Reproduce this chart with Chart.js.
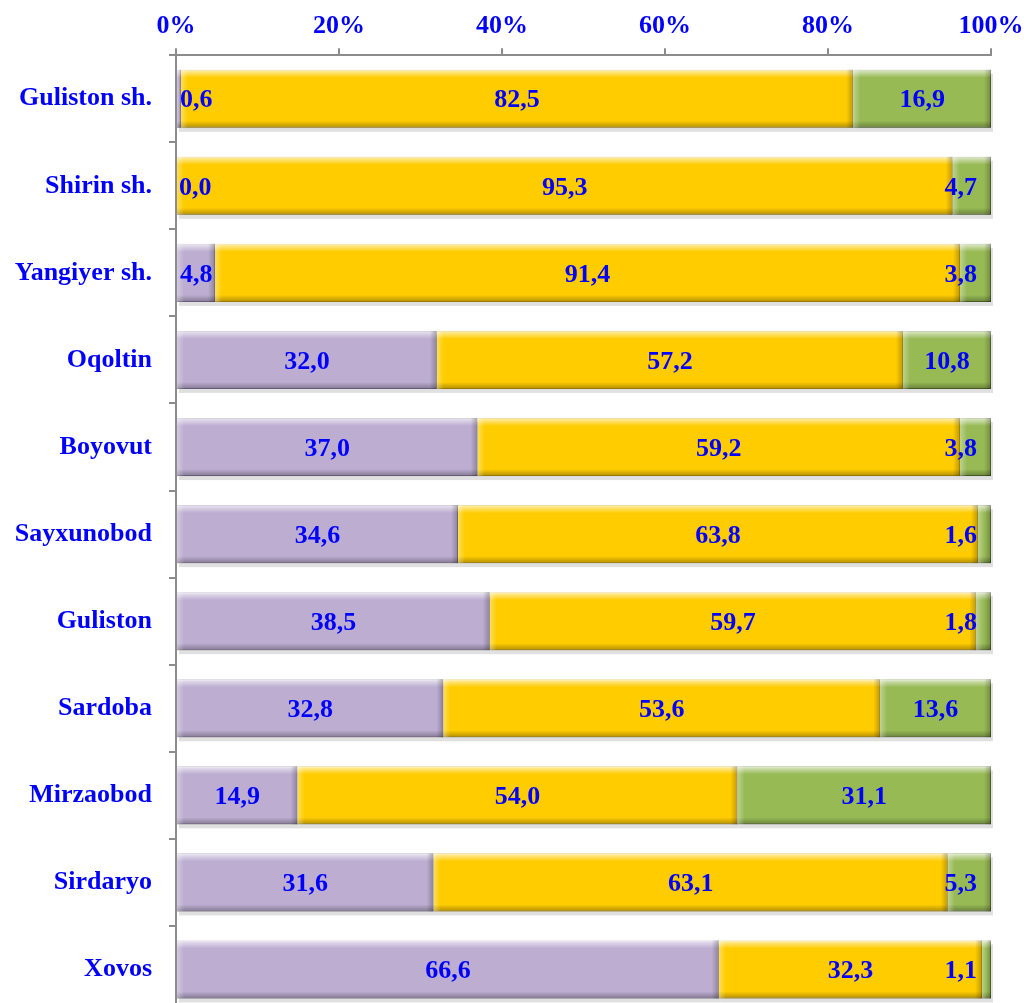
<!DOCTYPE html>
<html>
<head>
<meta charset="utf-8">
<script src="https://cdn.jsdelivr.net/npm/chart.js@4.4.1/dist/chart.umd.min.js"></script>
<style>
  html, body { margin: 0; padding: 0; background: #fff; overflow: hidden; }
  #chart { display: block; width: 1027px; height: 1015px; }
</style>
</head>
<body>
<canvas id="chart" width="1027" height="1015"></canvas>
<script>
// hududlar
const categories = ['Guliston sh.', 'Shirin sh.', 'Yangiyer sh.', 'Oqoltin', 'Boyovut',
    'Sayxunobod', 'Guliston', 'Sardoba', 'Mirzaobod', 'Sirdaryo', 'Xovos'];

// ulushlar, %
const seriesA = [0.6, 0.0, 4.8, 32.0, 37.0, 34.6, 38.5, 32.8, 14.9, 31.6, 66.6];
const seriesB = [82.5, 95.3, 91.4, 57.2, 59.2, 63.8, 59.7, 53.6, 54.0, 63.1, 32.3];
const seriesC = [16.9, 4.7, 3.8, 10.8, 3.8, 1.6, 1.8, 13.6, 31.1, 5.3, 1.1];

const xTicks = [0, 20, 40, 60, 80, 100];

const FONT = "'Liberation Serif', 'Times New Roman', serif";
const BLUE = '#0000FF';

// 3D ko'rinish uchun chetlar
const bevelPlugin = {
    id: 'bevel',
    beforeDatasetsDraw(chart) {
        const ctx = chart.ctx;
        ctx.save();
        ctx.fillStyle = 'rgba(0,0,0,0.12)';
        chart.getSortedVisibleDatasetMetas().forEach(meta => {
            meta.data.forEach(bar => {
                const p = bar.getProps(['x', 'y', 'base', 'height'], true);
                const w = p.x - p.base;
                if (w <= 0) return;
                ctx.fillRect(p.base + 2, p.y - p.height / 2 + 4, w, p.height);
            });
        });
        ctx.restore();
    },
    afterDatasetsDraw(chart) {
        const ctx = chart.ctx;
        ctx.save();
        chart.getSortedVisibleDatasetMetas().forEach(meta => {
            meta.data.forEach(bar => {
                const p = bar.getProps(['x', 'y', 'base', 'height'], true);
                const w = p.x - p.base;
                if (w <= 0.5) return;
                const top = p.y - p.height / 2;
                const bot = p.y + p.height / 2;
                let g = ctx.createLinearGradient(0, top, 0, top + 8);
                g.addColorStop(0, 'rgba(255,255,255,0.7)');
                g.addColorStop(1, 'rgba(255,255,255,0)');
                ctx.fillStyle = g;
                ctx.fillRect(p.base, top, w, 8);
                g = ctx.createLinearGradient(0, bot - 7, 0, bot);
                g.addColorStop(0, 'rgba(0,0,0,0)');
                g.addColorStop(1, 'rgba(0,0,0,0.3)');
                ctx.fillStyle = g;
                ctx.fillRect(p.base, bot - 7, w, 7);
                const e = Math.min(7, w / 2);
                g = ctx.createLinearGradient(p.base, 0, p.base + e, 0);
                g.addColorStop(0, 'rgba(255,255,255,0.35)');
                g.addColorStop(1, 'rgba(255,255,255,0)');
                ctx.fillStyle = g;
                ctx.fillRect(p.base, top, e, p.height);
                g = ctx.createLinearGradient(p.x - e, 0, p.x, 0);
                g.addColorStop(0, 'rgba(0,0,0,0)');
                g.addColorStop(1, 'rgba(0,0,0,0.25)');
                ctx.fillStyle = g;
                ctx.fillRect(p.x - e, top, e, p.height);
            });
        });
        ctx.restore();
    }
};

// qiymat yozuvlari
const labelPlugin = {
    id: 'valueLabels',
    afterDatasetsDraw(chart) {
        const ctx = chart.ctx;
        ctx.save();
        ctx.font = 'bold 26px ' + FONT;
        ctx.fillStyle = BLUE;
        ctx.textBaseline = 'middle';
        chart.getSortedVisibleDatasetMetas().forEach(meta => {
            const data = chart.data.datasets[meta.index].data;
            meta.data.forEach((bar, i) => {
                const v = data[i];
                const p = bar.getProps(['x', 'y', 'base'], true);
                const text = v.toFixed(1).replace('.', ',');
                let x = (p.x + p.base) / 2;
                ctx.textAlign = 'center';
                if (v < 6 && meta.index === 0) {
                    ctx.textAlign = 'left';
                    x = p.base + 3;
                } else if (v < 6 && meta.index === 2) {
                    ctx.textAlign = 'right';
                    x = p.x - 14;
                }
                ctx.fillText(text, x, p.y + 2);
            });
        });
        ctx.restore();
    }
};

const ctx = document.getElementById('chart').getContext('2d');
new Chart(ctx, {
    type: 'bar',
    data: {
        labels: categories,
        datasets: [
            { label: 'A', data: seriesA, backgroundColor: '#BCADD1', borderColor: '#8E7FA6', borderWidth: 1 },
            { label: 'B', data: seriesB, backgroundColor: '#FFCC00', borderColor: '#D4A600', borderWidth: 1 },
            { label: 'C', data: seriesC, backgroundColor: '#97BA55', borderColor: '#5F7D2C', borderWidth: 1 }
        ]
    },
    options: {
        indexAxis: 'y',
        responsive: false,
        animation: false,
        datasets: { bar: { categoryPercentage: 1, barPercentage: 0.667 } },
        layout: { padding: { top: 5, right: 36, bottom: 2, left: 0 } },
        plugins: {
            legend: { display: false },
            tooltip: { enabled: false }
        },
        scales: {
            x: {
                position: 'top',
                stacked: true,
                min: 0,
                max: 100,
                afterBuildTicks(scale) {
                    scale.ticks = xTicks.map(v => ({ value: v }));
                },
                afterFit(scale) {
                    scale.paddingRight = 0;
                    scale.paddingLeft = 0;
                },
                ticks: {
                    callback: v => v + '%',
                    color: BLUE,
                    font: { family: FONT, size: 26, weight: 'bold' },
                    padding: 6,
                    maxRotation: 0
                },
                grid: { drawOnChartArea: false, drawTicks: true, tickLength: 7, color: '#8c8c8c', lineWidth: 2 },
                border: { color: '#8c8c8c', width: 2 }
            },
            y: {
                stacked: true,
                afterFit(scale) {
                    scale.width = 176;
                    scale.paddingTop = 0;
                    scale.paddingBottom = 0;
                },
                ticks: {
                    color: BLUE,
                    font: { family: FONT, size: 26, weight: 'bold' },
                    padding: 17
                },
                grid: { offset: true, drawOnChartArea: false, drawTicks: true, tickLength: 7, color: '#8c8c8c', lineWidth: 2 },
                border: { color: '#8c8c8c', width: 2 }
            }
        }
    },
    plugins: [bevelPlugin, labelPlugin]
});
</script>
</body>
</html>
